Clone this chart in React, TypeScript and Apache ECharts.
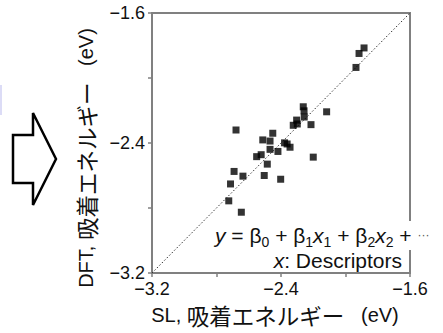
import React, { useEffect, useRef } from 'react';
import * as echarts from 'echarts';

// SL predicted adsorption energy (eV)
const slValues = [
  -1.885, -1.916, -1.935, -2.262, -2.257, -2.117, -2.303, -2.256, -2.299, -2.324,
  -2.214, -2.679, -2.451, -2.513, -2.468, -2.378, -2.362, -2.344, -2.468, -2.419,
  -2.523, -2.551, -2.2, -2.485, -2.691, -2.636, -2.504, -2.402, -2.713, -2.724, -2.646,
];
// DFT adsorption energy (eV)
const dftValues = [
  -1.815, -1.849, -1.935, -2.177, -2.202, -2.208, -2.259, -2.24, -2.283, -2.291,
  -2.287, -2.32, -2.34, -2.381, -2.388, -2.399, -2.406, -2.426, -2.439, -2.452,
  -2.472, -2.484, -2.487, -2.53, -2.575, -2.604, -2.6, -2.623, -2.652, -2.756, -2.826,
];
const axisMin = -3.2;
const axisMax = -1.6;
const tickStep = 0.4;
const labelledTicks = [-3.2, -2.4, -1.6];
const diagonal = [-3.2, -1.6];

const LATIN = 'Liberation Sans, Arial, Helvetica, sans-serif';
const CJK = 'Noto Sans CJK JP, Liberation Sans, sans-serif';
const AXIS_GRAY = '#808080';
const TEXT = '#111';

const fmt = (v: number) =>
  labelledTicks.some((l) => Math.abs(l - v) < 1e-6)
    ? (v < 0 ? '\u2212' : '') + Math.abs(v).toFixed(1)
    : '';

const axisCommon = {
  type: 'value' as const,
  min: axisMin,
  max: axisMax,
  interval: tickStep,
  splitLine: { show: false },
  axisLine: { show: true, onZero: false, lineStyle: { color: AXIS_GRAY, width: 2 } },
  axisTick: { show: true, inside: false, length: 4, lineStyle: { color: AXIS_GRAY, width: 1.5 } },
  axisLabel: {
    formatter: fmt,
    fontSize: 18,
    fontFamily: LATIN,
    color: TEXT,
    margin: 7,
    showMinLabel: true,
    showMaxLabel: true,
  },
};

export default function App() {
  const ref = useRef<HTMLDivElement>(null);
  useEffect(() => {
    const chart = echarts.init(ref.current!, null, { renderer: 'svg' });
    const points = slValues.map((x, i) => [x, dftValues[i]]);
    const titleRich = {
      a: { fontSize: 20, fontFamily: LATIN, fill: TEXT, lineHeight: 24 },
      c: { fontSize: 22.5, fontFamily: CJK, fill: TEXT, lineHeight: 24 },
    };
    chart.setOption({
      animation: false,
      backgroundColor: '#fff',
      grid: {
        left: 152,
        top: 13,
        width: 258,
        height: 260,
        show: true,
        borderColor: AXIS_GRAY,
        borderWidth: 2,
        backgroundColor: 'transparent',
      },
      xAxis: { ...axisCommon },
      yAxis: { ...axisCommon },
      series: [
        {
          type: 'line',
          data: diagonal.map((v) => [v, v]),
          symbol: 'none',
          lineStyle: { type: [1.5, 2], width: 1, color: '#333' },
          z: 1,
          silent: true,
        },
        {
          type: 'scatter',
          data: points,
          symbol: 'rect',
          symbolSize: 7,
          itemStyle: { color: '#000' },
          z: 3,
        },
      ],
      graphic: [
        {
          type: 'rect',
          shape: { x: 0, y: 85, width: 2, height: 30 },
          style: { fill: '#dcdcf6' },
          z: 50,
        },
        {
          type: 'polygon',
          shape: {
            points: [
              [13, 135], [33, 135], [33, 113], [56, 159], [33, 205], [33, 183], [13, 183],
            ],
          },
          style: { fill: '#fff', stroke: '#000', lineWidth: 2.5 },
          z: 50,
        },
        {
          type: 'rect',
          shape: { x: 212, y: 221, width: 231, height: 29 },
          style: { fill: '#fff' },
          z: 60,
        },
        {
          type: 'text',
          x: 215,
          y: 235,
          z: 61,
          style: {
            text: '{i|y} = β{s|0} + β{s|1}{i|x}{s|1} + β{s|2}{i|x}{s|2} + {d|···}',
            fontSize: 21,
            fontFamily: LATIN,
            fill: TEXT,
            lineHeight: 28,
            align: 'left',
            verticalAlign: 'middle',
            rich: {
              i: { fontSize: 21, fontStyle: 'italic', fontFamily: LATIN, fill: TEXT, lineHeight: 28 },
              s: { fontSize: 14, fontFamily: LATIN, fill: TEXT, lineHeight: 14, verticalAlign: 'bottom' },
              d: { fontSize: 12, fontFamily: LATIN, fill: '#555', lineHeight: 28 },
            },
          },
        },
        {
          type: 'text',
          x: 402,
          y: 260,
          z: 61,
          style: {
            text: '{i|x}: Descriptors',
            fontSize: 21,
            fontFamily: LATIN,
            fill: TEXT,
            align: 'right',
            verticalAlign: 'middle',
            rich: {
              i: { fontSize: 21, fontStyle: 'italic', fontFamily: LATIN, fill: TEXT },
            },
          },
        },
        {
          type: 'text',
          x: 275,
          y: 315,
          z: 61,
          style: {
            text: '{a|SL, }{c|吸着エネルギー}{a|   (eV)}',
            align: 'center',
            verticalAlign: 'middle',
            rich: titleRich,
          },
        },
        {
          type: 'text',
          x: 86,
          y: 158,
          rotation: Math.PI / 2,
          z: 61,
          style: {
            text: '{a|DFT, }{c|吸着エネルギー}{a|   (eV)}',
            align: 'center',
            verticalAlign: 'middle',
            rich: titleRich,
          },
        },
      ],
    });
    return () => chart.dispose();
  }, []);
  return (
    <div
      ref={ref}
      style={{ position: 'absolute', left: 0, top: 0, width: 443, height: 333 }}
    />
  );
}
